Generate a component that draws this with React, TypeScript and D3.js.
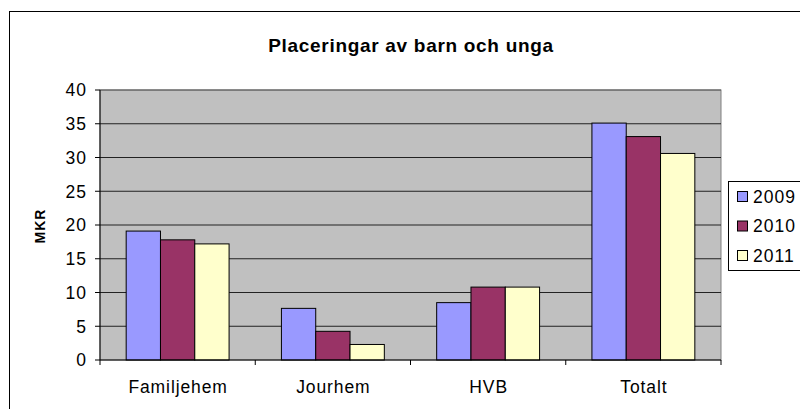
import React from "react";
import * as d3 from "d3";

const categories = ["Familjehem", "Jourhem", "HVB", "Totalt"];
const years = ["2009", "2010", "2011"];
const values2009 = [19.1, 7.65, 8.5, 35.1];
const values2010 = [17.8, 4.25, 10.8, 33.1];
const values2011 = [17.2, 2.3, 10.8, 30.6];
const yTicks = [0, 5, 10, 15, 20, 25, 30, 35, 40];
const colors = ["#9999FF", "#993366", "#FFFFCC"];
const title = "Placeringar av barn och unga";
const yLabel = "MKR";

export default function App() {
  const series = [values2009, values2010, values2011];
  const left = 100, right = 721, top = 90, bottom = 360;
  const x = d3.scaleBand<string>().domain(categories).range([left, right]).paddingInner(0).paddingOuter(0);
  const xs = d3.scaleBand<string>().domain(years).range([0, x.bandwidth()]).paddingInner(0).paddingOuter(0.763);
  const y = d3.scaleLinear().domain([0, 40]).range([bottom, top]);
  const font = "'Liberation Sans', Arial, sans-serif";
  const boundaries = categories.map((c) => x(c) as number).concat([right]);

  return (
    <svg width={800} height={409} style={{ position: "absolute", left: 0, top: 0, background: "#fff" }} fontFamily={font}>
      <rect x={9.5} y={11.5} width={1000} height={1000} fill="#fff" stroke="#000" strokeWidth={1} />
      <text x={411} y={52} textAnchor="middle" fontSize={19} fontWeight="bold" letterSpacing={0.7}>{title}</text>
      <rect x={left} y={top} width={right - left} height={bottom - top} fill="#C0C0C0" stroke="#808080" strokeWidth={1} />
      {yTicks.filter((t) => t > 0 && t < 40).map((t) => (
        <line key={"g" + t} x1={left} x2={right} y1={y(t)} y2={y(t)} stroke="#222" strokeWidth={1} />
      ))}
      <line x1={left} x2={right} y1={top} y2={top} stroke="#555" strokeWidth={1} />
      {categories.map((c, i) =>
        series.map((s, j) => (
          <rect
            key={c + j}
            x={(x(c) as number) + (xs(years[j]) as number)}
            y={y(s[i])}
            width={xs.bandwidth()}
            height={y(0) - y(s[i])}
            fill={colors[j]}
            stroke="#000"
            strokeWidth={1}
          />
        ))
      )}
      <line x1={left} x2={left} y1={top} y2={bottom} stroke="#000" strokeWidth={1} />
      <line x1={left} x2={right} y1={bottom} y2={bottom} stroke="#000" strokeWidth={1} />
      {yTicks.map((t) => (
        <g key={"t" + t}>
          <line x1={left - 5} x2={left} y1={y(t)} y2={y(t)} stroke="#000" strokeWidth={1} />
          <text x={87} y={y(t)} dy="0.36em" textAnchor="end" fontSize={17.5} letterSpacing={1}>{t}</text>
        </g>
      ))}
      {boundaries.map((b, i) => (
        <line key={"b" + i} x1={b} x2={b} y1={bottom} y2={bottom + 5} stroke="#000" strokeWidth={1} />
      ))}
      {categories.map((c) => (
        <text key={"l" + c} x={(x(c) as number) + x.bandwidth() / 2 + 0.5} y={393} textAnchor="middle" fontSize={17.5} letterSpacing={0.9}>{c}</text>
      ))}
      <text transform={`translate(44.5,226) rotate(-90)`} textAnchor="middle" fontSize={14} fontWeight="bold" letterSpacing={1}>{yLabel}</text>
      <rect x={728.5} y={181.5} width={100} height={89} fill="#fff" stroke="#000" strokeWidth={1} />
      {years.map((yr, j) => (
        <g key={"lg" + yr}>
          <rect x={737.5} y={191.5 + j * 29.5} width={10} height={10} fill={colors[j]} stroke="#000" strokeWidth={1} />
          <text x={753} y={196.5 + j * 29.5} dy="0.36em" fontSize={17.5} letterSpacing={1}>{yr}</text>
        </g>
      ))}
    </svg>
  );
}
